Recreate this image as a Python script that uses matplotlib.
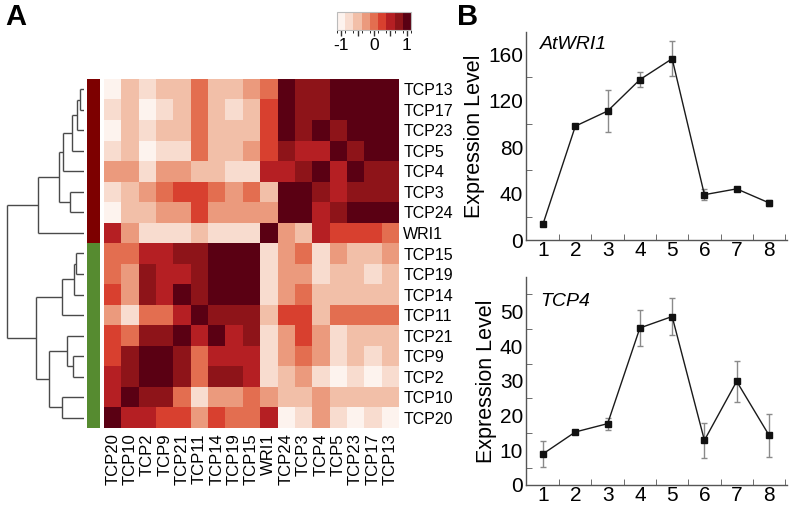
import numpy as np
import matplotlib
matplotlib.use("Agg")
import matplotlib.pyplot as plt
from matplotlib.colors import ListedColormap, BoundaryNorm

plt.rcParams['font.family'] = ['Liberation Sans', 'DejaVu Sans']

# ---------------- data ----------------
row_labels = ["TCP13", "TCP17", "TCP23", "TCP5", "TCP4", "TCP3", "TCP24", "WRI1",
              "TCP15", "TCP19", "TCP14", "TCP11", "TCP21", "TCP9", "TCP2", "TCP10", "TCP20"]
col_labels = ["TCP20", "TCP10", "TCP2", "TCP9", "TCP21", "TCP11", "TCP14", "TCP19",
              "TCP15", "WRI1", "TCP24", "TCP3", "TCP4", "TCP5", "TCP23", "TCP17", "TCP13"]

# colour-level (0..8) read per cell; correlation = level/4 - 1
levels = np.array([
    [0, 2, 1, 2, 2, 4, 2, 2, 3, 4, 8, 7, 7, 8, 8, 8, 8],
    [1, 2, 0, 1, 2, 4, 2, 1, 2, 5, 8, 7, 7, 8, 8, 8, 8],
    [0, 2, 1, 2, 2, 4, 2, 2, 2, 5, 8, 7, 8, 7, 8, 8, 8],
    [1, 2, 0, 1, 1, 4, 2, 2, 3, 5, 7, 6, 6, 8, 7, 8, 8],
    [3, 3, 1, 3, 3, 2, 2, 1, 1, 6, 6, 7, 8, 6, 8, 7, 7],
    [1, 2, 3, 4, 5, 5, 4, 3, 4, 2, 8, 8, 7, 6, 7, 7, 7],
    [0, 2, 2, 3, 3, 5, 3, 3, 3, 3, 8, 8, 6, 7, 8, 8, 8],
    [6, 3, 1, 1, 1, 2, 1, 1, 1, 8, 3, 2, 6, 5, 5, 5, 4],
    [4, 4, 6, 6, 7, 7, 8, 8, 8, 1, 3, 4, 1, 3, 2, 2, 3],
    [4, 3, 7, 6, 6, 7, 8, 8, 8, 1, 3, 3, 1, 2, 2, 1, 2],
    [5, 3, 7, 6, 8, 7, 8, 8, 8, 1, 3, 4, 2, 2, 2, 2, 2],
    [3, 1, 4, 4, 6, 8, 7, 7, 7, 2, 5, 5, 2, 4, 4, 4, 4],
    [5, 4, 7, 7, 8, 6, 8, 6, 7, 1, 3, 5, 3, 1, 2, 2, 2],
    [5, 7, 8, 8, 7, 4, 6, 6, 6, 1, 3, 4, 3, 1, 2, 1, 2],
    [6, 7, 8, 8, 7, 4, 7, 7, 6, 1, 2, 3, 1, 0, 1, 0, 1],
    [6, 8, 7, 7, 4, 1, 3, 3, 4, 3, 2, 2, 3, 2, 2, 2, 2],
    [8, 6, 6, 5, 5, 3, 5, 4, 4, 6, 0, 1, 3, 1, 0, 1, 0],
])
corr = levels / 4.0 - 1.0

cluster_of_row = ["red"] * 8 + ["green"] * 9

# dendrogram merges: (node, child1, child2, height)
dendro_merges = [
    ("a", "TCP13", "TCP17", 4),
    ("b", "a", "TCP23", 7),
    ("c", "b", "TCP5", 12),
    ("d", "c", "TCP4", 21),
    ("e", "TCP3", "TCP24", 14),
    ("f", "d", "e", 25),
    ("g", "f", "WRI1", 46),
    ("h1", "TCP15", "TCP19", 8),
    ("h2", "h1", "TCP14", 10),
    ("h3", "h2", "TCP11", 22),
    ("i1", "TCP9", "TCP2", 11),
    ("i2", "TCP21", "i1", 17),
    ("j", "TCP10", "TCP20", 22),
    ("k", "i2", "j", 35),
    ("l", "h3", "k", 48),
    ("root", "g", "l", 77),
]

stages = [1, 2, 3, 4, 5, 6, 7, 8]
wri1_mean = [14, 98, 111, 138, 156, 39, 44, 32]
wri1_err = [1, 2, 18, 6.5, 15, 5, 1.5, 2.5]
tcp4_mean = [9.0, 15.3, 17.7, 45.3, 48.6, 12.9, 29.9, 14.4]
tcp4_err = [3.7, 0.5, 1.7, 5.2, 5.3, 5.0, 6.0, 6.2]

# ---------------- figure ----------------
W, H = 789, 509
fig = plt.figure(figsize=(W / 100, H / 100), dpi=100)


def ax_px(x0, y0, x1, y1):
    return fig.add_axes([x0 / W, 1 - y1 / H, (x1 - x0) / W, (y1 - y0) / H])


level_colors = ["#fdf3ee", "#f8dccf", "#f2bfa8", "#eb9a7d", "#e36e50",
                "#d8402f", "#b51f23", "#8e1419", "#5a0013"]
cmap = ListedColormap(level_colors)
norm = BoundaryNorm(np.linspace(-1.125, 1.125, 10), cmap.N)

# heatmap
hx0, hy0, hx1, hy1 = 104, 79, 399, 428
axh = ax_px(hx0, hy0, hx1, hy1)
n = len(row_labels)
im = axh.imshow(corr, cmap=cmap, norm=norm, aspect='auto', interpolation='nearest',
                extent=(0, n, n, 0))
axh.set_xlim(0, n)
axh.set_ylim(n, 0)
axh.yaxis.tick_right()
axh.set_yticks(np.arange(n) + 0.5)
axh.set_yticklabels(row_labels, fontsize=11.5)
axh.set_xticks(np.arange(n) + 0.5)
axh.set_xticklabels(col_labels, rotation=90, fontsize=12)
axh.tick_params(length=0, pad=3)
axh.tick_params(axis='x', pad=4)
for s in axh.spines.values():
    s.set_visible(False)

# cluster colour strip
axs = ax_px(87, hy0, 100, hy1)
strip_cols = {"red": "#7d0000", "green": "#568b30"}
for i, c in enumerate(cluster_of_row):
    axs.bar(0.5, 1, bottom=i, width=1, color=strip_cols[c], edgecolor='none')
axs.set_xlim(0, 1)
axs.set_ylim(n, 0)
axs.axis('off')

# dendrogram
axd = ax_px(0, hy0, 84, hy1)
pos = {name: (i + 0.5, 0.0) for i, name in enumerate(row_labels)}
for node, c1, c2, h in dendro_merges:
    y1, h1 = pos[c1]
    y2, h2 = pos[c2]
    kw = dict(color='#4a4a4a', lw=1.0, solid_capstyle='butt')
    axd.plot([h1, h], [y1, y1], **kw)
    axd.plot([h2, h], [y2, y2], **kw)
    axd.plot([h, h], [y1, y2], **kw)
    pos[node] = ((y1 + y2) / 2, h)
axd.set_xlim(84, 0)
axd.set_ylim(n, 0)
axd.axis('off')

# colour bar
axc = ax_px(337, 12, 411, 30)
cb = fig.colorbar(im, cax=axc, orientation='horizontal', ticks=[-1, -0.5, 0, 0.5, 1])
cb.ax.set_xlim(-1.125, 1.125)
cb.set_ticks([-1, -0.5, 0, 0.5, 1])
cb.set_ticklabels(['-1', '', '0', '', '1'])
cb.ax.tick_params(length=4, width=1, labelsize=12.5, pad=2, color='#333333')
cb.outline.set_edgecolor('#bbbbbb')
cb.outline.set_linewidth(0.8)

# panel letters
fig.text(5 / W, 1 - 17 / H, "A", fontsize=21, fontweight='bold', va='center', ha='left')
fig.text(457 / W, 1 - 17 / H, "B", fontsize=21, fontweight='bold', va='center', ha='left')


def line_panel(ax, mean, err, ymax, major, minor, title, ty):
    ax.errorbar(stages, mean, yerr=err, fmt='none', ecolor='#8a8a8a', elinewidth=1.0,
                capsize=2, capthick=1.0, zorder=1)
    ax.plot(stages, mean, color='#1a1a1a', lw=1.0, marker='s', markersize=4,
            markerfacecolor='#111111', markeredgecolor='#111111', zorder=2)
    ax.set_xlim(0.47, 8.56)
    ax.set_ylim(0, ymax)
    ax.set_xticks(stages)
    ax.set_xticks(np.arange(1.5, 9, 1), minor=True)
    ax.set_yticks(major)
    ax.set_yticks(minor, minor=True)
    ax.tick_params(axis='both', which='major', length=0, labelsize=15, pad=1)
    ax.tick_params(axis='both', which='minor', length=4, direction='in', color='#555555')
    ax.tick_params(axis='y', which='major', pad=2)
    for s in ['top', 'right']:
        ax.spines[s].set_visible(False)
    for s in ['left', 'bottom']:
        ax.spines[s].set_color('#555555')
        ax.spines[s].set_linewidth(1.0)
    ax.set_ylabel("Expression Level", fontsize=15.5, labelpad=2)
    ax.text(0.055, ty, title, transform=ax.transAxes, fontsize=14, style='italic',
            ha='left', va='center')


ax1 = ax_px(526, 32, 787, 240)
line_panel(ax1, wri1_mean, wri1_err, 179, [0, 40, 80, 120, 160], [20, 60, 100, 140],
           "AtWRI1", 0.94)
ax2 = ax_px(526, 277, 787, 485)
line_panel(ax2, tcp4_mean, tcp4_err, 60, [0, 10, 20, 30, 40, 50],
           [5, 15, 25, 35, 45, 55], "TCP4", 0.88)

fig.savefig("out.png", dpi=100)
